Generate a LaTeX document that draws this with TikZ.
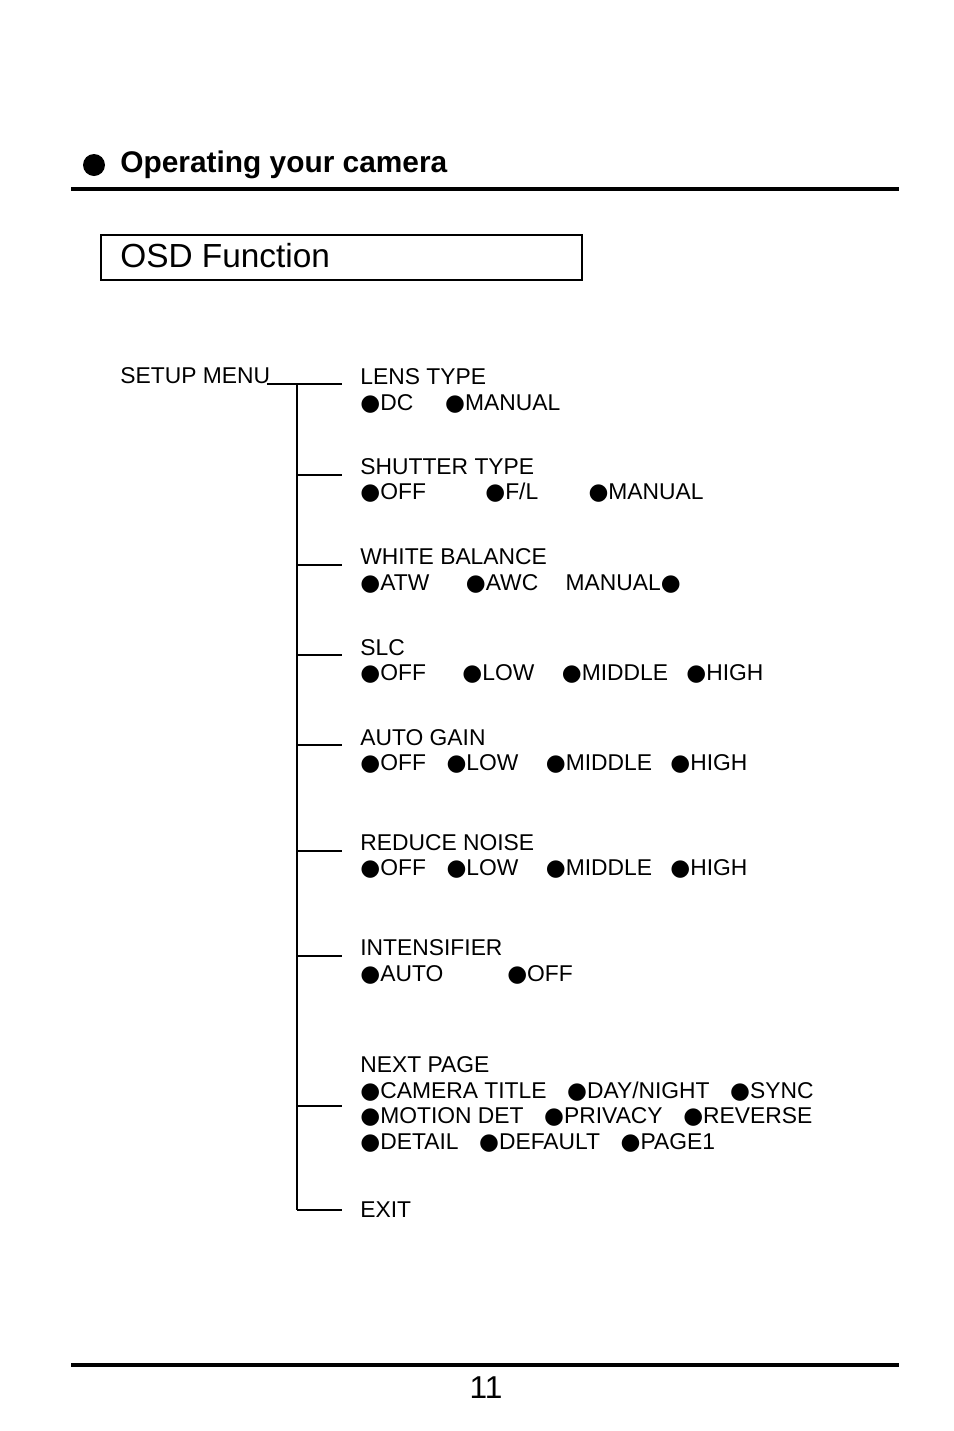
\documentclass[tikz,border=0pt]{standalone}
\usepackage{fontspec}
\setmainfont{Liberation Sans}
\newfontfamily\dejavu{DejaVu Sans}
\usetikzlibrary{positioning}
\newcommand{\bul}{{\dejavu\char"25CF}}
\tikzset{
  item/.style={anchor=west, font=\fontsize{13}{15}\selectfont, inner sep=0pt},
  branch/.style={line width=0.7pt}
}
\begin{document}
\begin{tikzpicture}[x=0.02cm,y=-0.02cm]
    \useasboundingbox (0,0) rectangle (954,1431);
    % Header
    \fill (94,165) circle (11);
    \node[anchor=west, font=\fontsize{17}{20}\selectfont\bfseries, inner sep=0pt] (title) at (120,165) {Operating your camera};
    \draw[line width=2.4pt] (71,189) -- (899,189);
    \draw[line width=0.8pt] (101,235) rectangle (582,280);
    \node[anchor=west, font=\fontsize{19}{22}\selectfont, inner sep=0pt] (osd) at (120,256) {OSD Function};

    % Tree
    \node[item] (setup) at (120,376) {SETUP MENU};
    \coordinate (top) at (297,384);
    \coordinate (bot) at (297,1210);
    \draw[branch] (267,384) -- (342,384);
    \draw[branch] (top) -- (bot);
    \foreach \y in {475,565,655,745,851,956,1106,1210}
      \draw[branch] (297,\y) -- (342,\y);

    % Items
    \node[item] (lens) at (360,377) {LENS TYPE};
    \node[item] (lenso) at (360,404) {\bul DC\hspace{1.4em}\bul MANUAL};
    \node[item] (shut) at (360,467) {SHUTTER TYPE};
    \node[item] (shuto) at (360,493) {\bul OFF\hspace{2.6em}\bul F/L\hspace{2.2em}\bul MANUAL};
    \node[item] (wb) at (360,557) {WHITE BALANCE};
    \node[item] (wbo) at (360,584) {\bul ATW\hspace{1.6em}\bul AWC\hspace{1.2em}MANUAL\bul};
    \node[item] (slc) at (360,648) {SLC};
    \node[item] (slco) at (360,674) {\bul OFF\hspace{1.6em}\bul LOW\hspace{1.2em}\bul MIDDLE\hspace{0.8em}\bul HIGH};
    \node[item] (gain) at (360,738) {AUTO GAIN};
    \node[item] (gaino) at (360,764) {\bul OFF\hspace{0.9em}\bul LOW\hspace{1.2em}\bul MIDDLE\hspace{0.8em}\bul HIGH};
    \node[item] (nr) at (360,843) {REDUCE NOISE};
    \node[item] (nro) at (360,869) {\bul OFF\hspace{0.9em}\bul LOW\hspace{1.2em}\bul MIDDLE\hspace{0.8em}\bul HIGH};
    \node[item] (int) at (360,948) {INTENSIFIER};
    \node[item] (into) at (360,975) {\bul AUTO\hspace{2.8em}\bul OFF};
    \node[item] (next) at (360,1065) {NEXT PAGE};
    \node[item] (nexta) at (360,1092) {\bul CAMERA TITLE\hspace{0.9em}\bul DAY/NIGHT\hspace{0.9em}\bul SYNC};
    \node[item] (nextb) at (360,1117) {\bul MOTION DET\hspace{0.9em}\bul PRIVACY\hspace{0.9em}\bul REVERSE};
    \node[item] (nextc) at (360,1143) {\bul DETAIL\hspace{0.9em}\bul DEFAULT\hspace{0.9em}\bul PAGE1};
    \node[item] (exit) at (360,1210) {EXIT};

    % Footer
    \draw[line width=2.4pt] (71,1365) -- (899,1365);
    \node[font=\fontsize{18}{20}\selectfont] (page) at (486,1388) {11};
\end{tikzpicture}
\end{document}
